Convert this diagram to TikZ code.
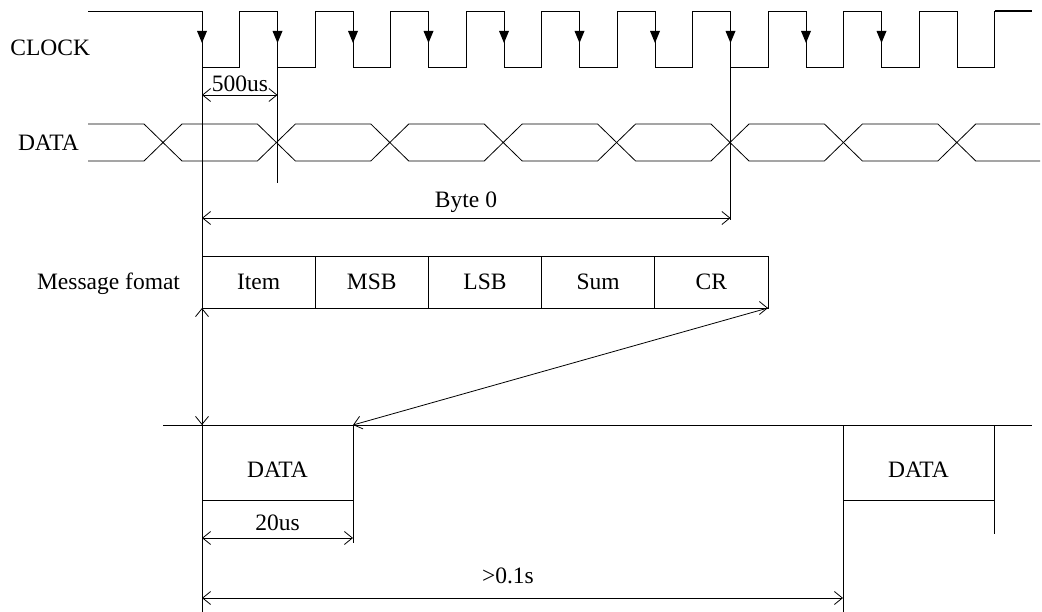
\documentclass[tikz,border=0pt]{standalone}
\usepackage{fontspec}
\setmainfont{Liberation Serif}
\usetikzlibrary{arrows.meta}
\begin{document}
\begin{tikzpicture}[x=1pt,y=-1pt,line width=0.8pt,line join=miter,
  >={Straight Barb[length=8pt,width=13pt]},
  every node/.style={font=\fontsize{23.5}{28}\selectfont,inner sep=0pt,outer sep=0pt},
  lbl/.style={anchor=base},
  cell/.style={draw,minimum width=113.2pt,minimum height=52pt},
  pkt/.style={draw,anchor=north west,minimum width=151pt,minimum height=75pt},
  edgemark/.style={fill=black}]
\fill[white] (0,0) rectangle (1042,612);
\useasboundingbox (0,0) rectangle (1042,612);

% signal names
\node[anchor=base east] (clk) at (90,56) {CLOCK};
\node[anchor=base west] (dat) at (18,151) {DATA};
\node[anchor=base east] (fmt) at (180,290) {Message fomat};

% clock waveform: period 75.5, falling edges from x = 202
\draw (88,11)
  \foreach \k in {0,...,10} {
    -- ({202+75.5*\k},11) -- ({202+75.5*\k},67)
    -- ({239.75+75.5*\k},67) -- ({239.75+75.5*\k},11)
  } -- (1032,11);
\draw[line width=1.3pt] (994.75,11) -- (1032,11);
% sampling marks on the falling edges
\foreach \k in {0,...,9} {
  \pgfmathsetmacro\fx{202+75.5*\k}
  \fill[edgemark] (\fx-5,31) -- (\fx+5,31) -- (\fx,43) -- cycle;
}

% data waveform: bit cells between crossings 113.4 apart
\draw (88,124) -- (144,124) -- (163,142.5) -- (144,161) -- (88,161);
\foreach \j in {0,...,6} {
  \pgfmathsetmacro\ca{163+113.4*\j}
  \pgfmathsetmacro\cb{163+113.4*(\j+1)}
  \draw (\ca,142.5) -- (\ca+19,124) -- (\cb-19,124) -- (\cb,142.5)
        -- (\cb-19,161) -- (\ca+19,161) -- cycle;
}
\draw (1040,124) -- (975.8,124) -- (956.8,142.5) -- (975.8,161) -- (1040,161);

% reference lines dropped from the clock edges
\coordinate (e0) at (202,67);
\coordinate (e1) at (277.5,67);
\coordinate (e7) at (730.5,67);
\coordinate (e0b) at (202,612);
\coordinate (e1b) at (277.5,183);
\coordinate (e7b) at (730.5,220);
\draw (e0) -- (e0b);
\draw (e1) -- (e1b);
\draw (e7) -- (e7b);

% bit time
\coordinate (b0) at (202,95);
\coordinate (b1) at (277.5,95);
\draw[<->] (b0) -- (b1);
\node[lbl] (tbit) at (240,92) {500us};

% byte length
\coordinate (y0) at (202,218);
\coordinate (y1) at (730.5,218);
\draw[<->] (y0) -- (y1);
\node[lbl] (tbyte) at (466,208) {Byte 0};

% message fields
\node[cell] (item) at (258.6,282) {Item};
\node[cell] (msb)  at (371.8,282) {MSB};
\node[cell] (lsb)  at (485.0,282) {LSB};
\node[cell] (sum)  at (598.2,282) {Sum};
\node[cell] (cr)   at (711.4,282) {CR};
\draw[->] (item.south west) -- (cr.south east);

% packet timeline
\coordinate (tl0) at (163,425);
\coordinate (tl1) at (1032,425);
\draw (tl0) -- (tl1);
\node[pkt] (p1) at (202,425) {};
\node[lbl] (p1t) at (277.5,477) {DATA};
\node[pkt] (p2) at (843,425) {};
\node[lbl] (p2t) at (918.5,477) {DATA};
\draw (p1.south east) -- ++(0,43);
\draw (p2.south east) -- ++(0,34);
\draw (p2.south west) -- (843,612);

\draw[->] (cr.south east) -- (p1.north east);
\draw[<->] (item.south west) -- (p1.north west);

% packet length and repetition interval
\coordinate (d0) at (202,538);
\coordinate (d1) at (353,538);
\draw[<->] (d0) -- (d1);
\node[lbl] (tpkt) at (277.5,530) {20us};
\coordinate (r0) at (202,598);
\coordinate (r1) at (843,598);
\draw[<->] (r0) -- (r1);
\node[lbl] (trep) at (508,583) {>0.1s};
\end{tikzpicture}
\end{document}
